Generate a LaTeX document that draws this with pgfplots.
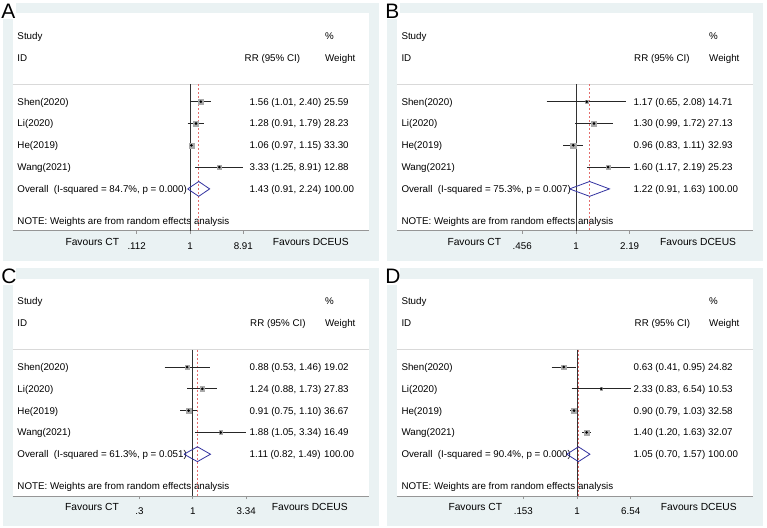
\documentclass[border=0pt]{standalone}
\usepackage{pgfplots}
\pgfplotsset{compat=1.18}
\usepackage{fontspec}
\setmainfont{Liberation Sans}

\definecolor{bgg}{RGB}{234,242,243}
\definecolor{boxg}{RGB}{170,170,170}
\definecolor{dia}{RGB}{50,50,160}
\definecolor{redd}{RGB}{228,110,110}
\definecolor{axg}{RGB}{150,150,150}

\newcommand\fs{\fontsize{9.8}{11}\selectfont}
\newcommand\fsb{\fontsize{10.3}{12}\selectfont}

\pgfplotsset{
 fpanel/.style={
  scale only axis, width=356.6bp, height=217.4bp, anchor=south west,
  ymin=-0.917, ymax=9.055,
  axis x line=bottom, axis y line=none,
  x axis line style={-, draw=axg, line width=0.6bp},
  ytick=\empty, minor xtick={},
  tick align=outside, major tick length=3bp,
  xtick style={draw=axg, line width=0.6bp},
  xticklabel style={font=\fs, anchor=base, inner sep=0pt, yshift=-15.4bp},
  clip=false,
 },
}
\tikzset{
 refl/.style={black!80, line width=0.8bp},
 ovl/.style={redd, line width=0.6bp, dash pattern=on 2bp off 2bp},
 dial/.style={dia, line width=0.8bp},
}

\newcommand\TT[3]{\node[anchor=base west, inner sep=0pt, font=\fs] at (#1,#2) {#3};}
\newcommand\frameP[2]{%
 \fill[bgg] (3,3) rectangle (379.3,260.7);
 \fill[white] (12.7,13.3) rectangle (369.3,230.7);
 \fill[white] (0,0) rectangle (15.5,19.5);
 \node[anchor=base west, inner sep=0pt, font=\fontsize{21}{21}\selectfont] at (1.2,18.3) {#1};
 \draw[gray!30, line width=0.6bp] (12.7,84.3) -- (369.3,84.3);
 \TT{17.3}{39.1}{Study}
 \TT{325}{39.1}{\%}
 \TT{17.3}{61.1}{ID}
 \TT{#2}{61.1}{RR (95\% CI)}
 \TT{325}{61.1}{Weight}
 \TT{17.3}{224.4}{NOTE: Weights are from random effects analysis}
}
\newcommand\RowT[4]{\TT{17.3}{#1}{#2}\TT{249.5}{#1}{#3}\TT{324}{#1}{#4}}
\newcommand\Fav[2]{%
 \node[anchor=base east, inner sep=0pt, font=\fsb] at (#1,245.4) {Favours CT};
 \node[anchor=base west, inner sep=0pt, font=\fsb] at (#2,245.4) {Favours DCEUS};}

\newcommand\Boxes[1]{%
 \addplot[scatter, only marks, mark=square*,
  scatter/use mapped color={draw=boxg, fill=boxg},
  visualization depends on={0.45*sqrt(\thisrow{w}) \as \pms},
  scatter/@pre marker code/.append style={/tikz/mark size=\pms}]
  table[x=rr,y=r,row sep=\\] {#1};}

\begin{document}
\begin{tikzpicture}[x=1bp,y=-1bp]
\useasboundingbox (0,0) rectangle (767,528);

% ---------------- Panel A
\begin{scope}
\frameP{A}{244.5}
\RowT{105.1}{Shen(2020)}{1.56 (1.01, 2.40)}{25.59}
\RowT{126.9}{Li(2020)}{1.28 (0.91, 1.79)}{28.23}
\RowT{148.7}{He(2019)}{1.06 (0.97, 1.15)}{33.30}
\RowT{170.5}{Wang(2021)}{3.33 (1.25, 8.91)}{12.88}
\RowT{192.3}{Overall~~(I-squared = 84.7\%, p = 0.000)}{1.43 (0.91, 2.24)}{100.00}
\Fav{119.3}{272.7}
\end{scope}
\begin{axis}[xmode=log, fpanel, at={(12.7bp,-230.7bp)}, xmin=6.906e-4, xmax=1571.8,
  xtick={0.112,1,8.91}, xticklabels={.112,1,8.91}]
\addplot[refl] coordinates {(1,5.8) (1,-0.917)};
\addplot[ovl] coordinates {(1.43,5.8) (1.43,-0.917)};
\Boxes{rr w r\\ 1.56 25.59 5\\ 1.28 28.23 4\\ 1.06 33.30 3\\ 3.33 12.88 2\\}
\addplot[black!85, line width=0.7bp, unbounded coords=jump] coordinates {(1.01,5) (2.40,5) (nan,nan) (0.91,4) (1.79,4) (nan,nan) (0.97,3) (1.15,3) (nan,nan) (1.25,2) (8.91,2)};
\addplot[only marks, mark=*, mark size=1.1, black] coordinates {(1.56,5) (1.28,4) (1.06,3) (3.33,2)};
\addplot[dial] coordinates {(0.91,1) (1.43,1.34) (2.24,1) (1.43,0.66) (0.91,1)};
\end{axis}

% ---------------- Panel B
\begin{scope}[shift={(384,0)}]
\frameP{B}{250}
\RowT{105.1}{Shen(2020)}{1.17 (0.65, 2.08)}{14.71}
\RowT{126.9}{Li(2020)}{1.30 (0.99, 1.72)}{27.13}
\RowT{148.7}{He(2019)}{0.96 (0.83, 1.11)}{32.93}
\RowT{170.5}{Wang(2021)}{1.60 (1.17, 2.19)}{25.23}
\RowT{192.3}{Overall~~(I-squared = 75.3\%, p = 0.007)}{1.22 (0.91, 1.63)}{100.00}
\Fav{117.3}{276}
\end{scope}
\begin{axis}[xmode=log, fpanel, at={(396.7bp,-230.7bp)}, xmin=0.07288, xmax=13.33,
  xtick={0.456,1,2.19}, xticklabels={.456,1,2.19}]
\addplot[refl] coordinates {(1,5.8) (1,-0.917)};
\addplot[ovl] coordinates {(1.22,5.8) (1.22,-0.917)};
\Boxes{rr w r\\ 1.17 14.71 5\\ 1.30 27.13 4\\ 0.96 32.93 3\\ 1.60 25.23 2\\}
\addplot[black!85, line width=0.7bp, unbounded coords=jump] coordinates {(0.65,5) (2.08,5) (nan,nan) (0.99,4) (1.72,4) (nan,nan) (0.83,3) (1.11,3) (nan,nan) (1.17,2) (2.19,2)};
\addplot[only marks, mark=*, mark size=1.1, black] coordinates {(1.17,5) (1.30,4) (0.96,3) (1.60,2)};
\addplot[dial] coordinates {(0.91,1) (1.22,1.34) (1.63,1) (1.22,0.66) (0.91,1)};
\end{axis}

% ---------------- Panel C
\begin{scope}[shift={(0,265.3)}]
\frameP{C}{250}
\RowT{105.1}{Shen(2020)}{0.88 (0.53, 1.46)}{19.02}
\RowT{126.9}{Li(2020)}{1.24 (0.88, 1.73)}{27.83}
\RowT{148.7}{He(2019)}{0.91 (0.75, 1.10)}{36.67}
\RowT{170.5}{Wang(2021)}{1.88 (1.05, 3.34)}{16.49}
\RowT{192.3}{Overall~~(I-squared = 61.3\%, p = 0.051)}{1.11 (0.82, 1.49)}{100.00}
\Fav{119}{271.7}
\end{scope}
\begin{axis}[xmode=log, fpanel, at={(12.7bp,-496.0bp)}, xmin=0.01716, xmax=53.74,
  xtick={0.3,1,3.34}, xticklabels={.3,1,3.34}]
\addplot[refl] coordinates {(1,5.8) (1,-0.917)};
\addplot[ovl] coordinates {(1.11,5.8) (1.11,-0.917)};
\Boxes{rr w r\\ 0.88 19.02 5\\ 1.24 27.83 4\\ 0.91 36.67 3\\ 1.88 16.49 2\\}
\addplot[black!85, line width=0.7bp, unbounded coords=jump] coordinates {(0.53,5) (1.46,5) (nan,nan) (0.88,4) (1.73,4) (nan,nan) (0.75,3) (1.10,3) (nan,nan) (1.05,2) (3.34,2)};
\addplot[only marks, mark=*, mark size=1.1, black] coordinates {(0.88,5) (1.24,4) (0.91,3) (1.88,2)};
\addplot[dial] coordinates {(0.82,1) (1.11,1.34) (1.49,1) (1.11,0.66) (0.82,1)};
\end{axis}

% ---------------- Panel D
\begin{scope}[shift={(384,265.3)}]
\frameP{D}{250.5}
\RowT{105.1}{Shen(2020)}{0.63 (0.41, 0.95)}{24.82}
\RowT{126.9}{Li(2020)}{2.33 (0.83, 6.54)}{10.53}
\RowT{148.7}{He(2019)}{0.90 (0.79, 1.03)}{32.58}
\RowT{170.5}{Wang(2021)}{1.40 (1.20, 1.63)}{32.07}
\RowT{192.3}{Overall~~(I-squared = 90.4\%, p = 0.000)}{1.05 (0.70, 1.57)}{100.00}
\Fav{118.3}{276.7}
\end{scope}
\begin{axis}[xmode=log, fpanel, at={(396.7bp,-496.0bp)}, xmin=0.001827, xmax=475.5,
  xtick={0.153,1,6.54}, xticklabels={.153,1,6.54}]
\addplot[refl] coordinates {(1,5.8) (1,-0.917)};
\addplot[ovl] coordinates {(1.05,5.8) (1.05,-0.917)};
\Boxes{rr w r\\ 0.63 24.82 5\\ 2.33 10.53 4\\ 0.90 32.58 3\\ 1.40 32.07 2\\}
\addplot[black!85, line width=0.7bp, unbounded coords=jump] coordinates {(0.41,5) (0.95,5) (nan,nan) (0.83,4) (6.54,4) (nan,nan) (0.79,3) (1.03,3) (nan,nan) (1.20,2) (1.63,2)};
\addplot[only marks, mark=*, mark size=1.1, black] coordinates {(0.63,5) (2.33,4) (0.90,3) (1.40,2)};
\addplot[dial] coordinates {(0.70,1) (1.05,1.34) (1.57,1) (1.05,0.66) (0.70,1)};
\end{axis}
\end{tikzpicture}
\end{document}
